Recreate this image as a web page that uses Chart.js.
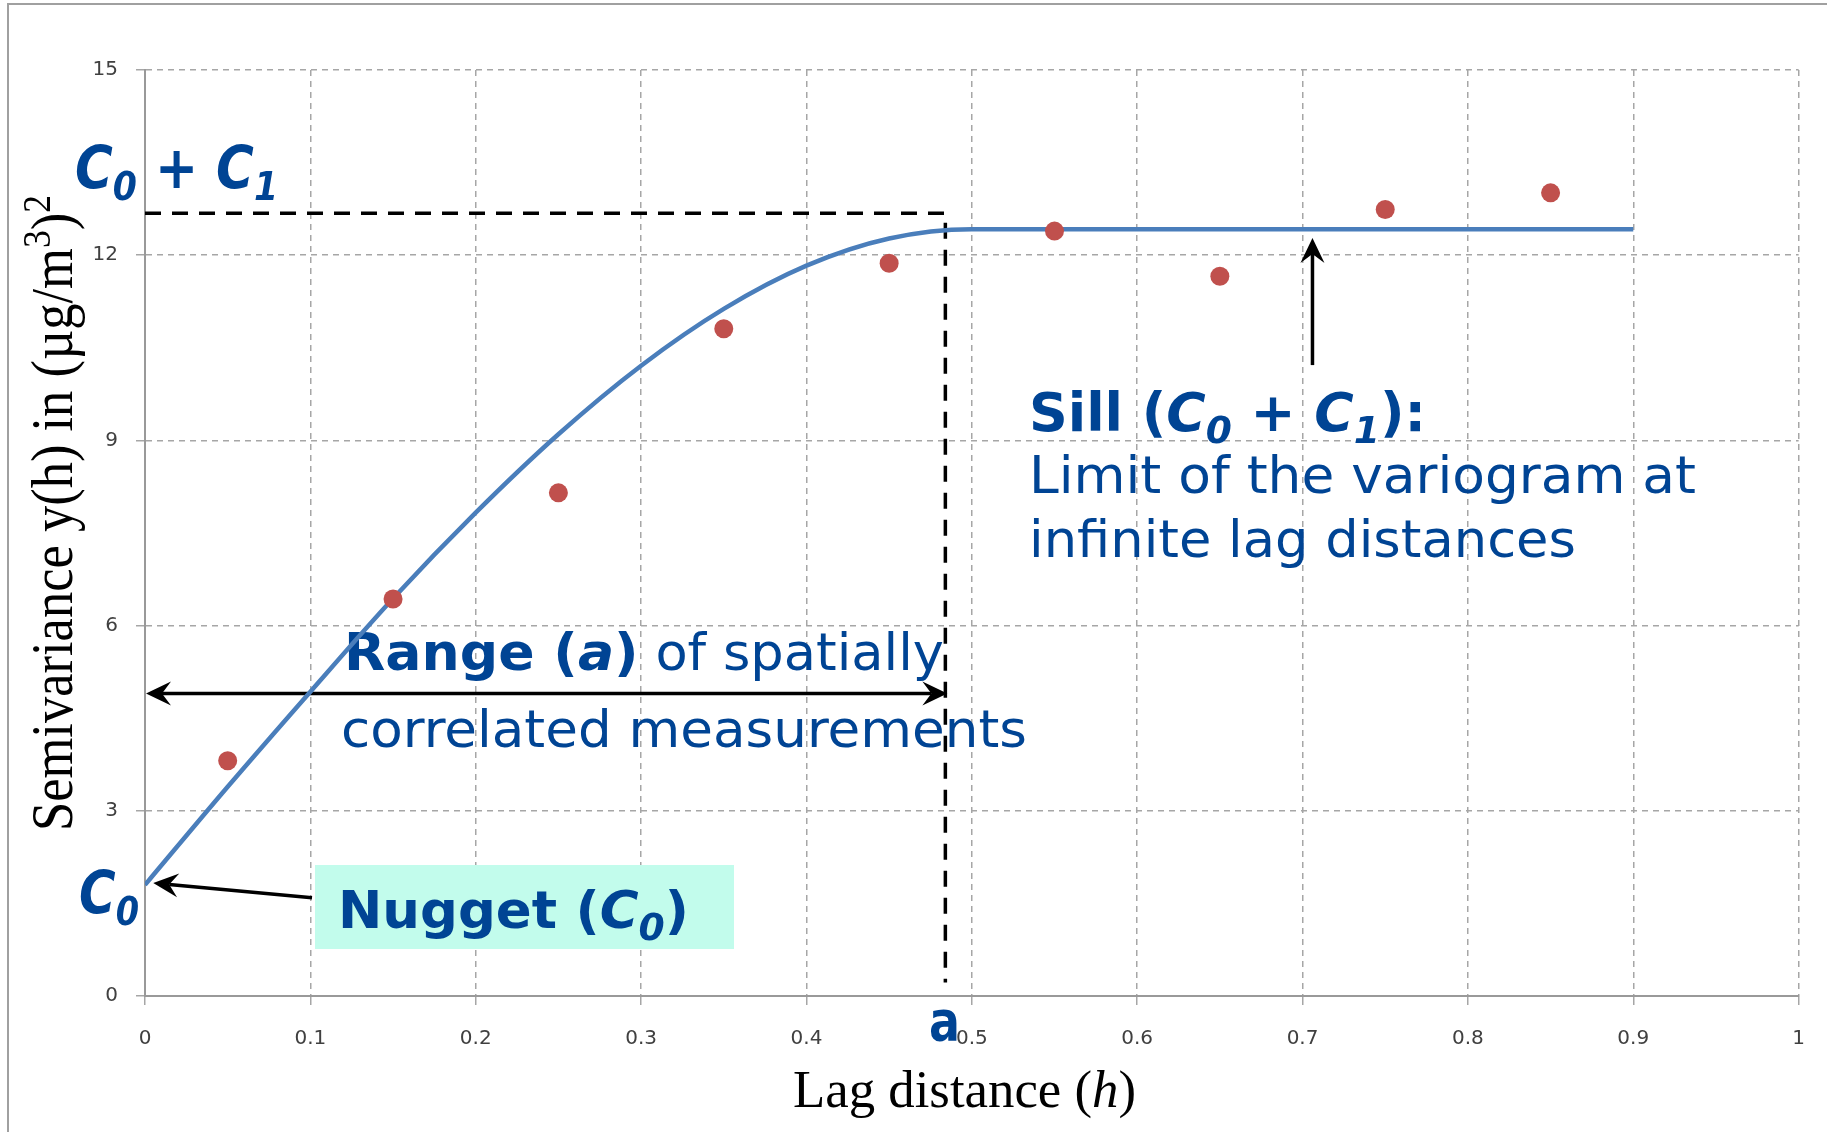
<!DOCTYPE html>
<html><head><meta charset="utf-8">
<script src="https://cdn.jsdelivr.net/npm/chart.js@4.4.1/dist/chart.umd.min.js"></script>
<style>html,body{margin:0;padding:0;background:#fff;overflow:hidden}canvas{display:block}</style>
</head><body>
<canvas id="c" width="1827" height="1132"></canvas>
<script>
// ---- data ----
const lagDistances = [0.05, 0.15, 0.25, 0.35, 0.45, 0.55, 0.65, 0.75, 0.85];
const semivariance = [3.81, 6.43, 8.15, 10.81, 11.87, 12.39, 11.66, 12.74, 13.01];
const modelLag = [0, 0.05, 0.10, 0.15, 0.20, 0.25, 0.30, 0.35, 0.40, 0.45, 0.50, 0.90];
const modelGamma = [1.80, 3.39, 4.93, 6.44, 7.83, 9.10, 10.21, 11.13, 11.83, 12.27, 12.42, 12.42];
const xTickValues = [0, 0.1, 0.2, 0.3, 0.4, 0.5, 0.6, 0.7, 0.8, 0.9, 1];
const xTickLabels = ['0', '0.1', '0.2', '0.3', '0.4', '0.5', '0.6', '0.7', '0.8', '0.9', '1'];
const yTickValues = [0, 3, 6, 9, 12, 15];
const yTickLabels = ['0', '3', '6', '9', '12', '15'];
// annotation anchors (data units)
const sillMarkLevel = 12.68;   // dashed C0+C1 level
const rangeA = 0.484;          // range a
const rangeArrowLevel = 4.9;
const dashedBottom = 0.22;
const sillArrowLag = 0.706, sillArrowFrom = 10.22, sillArrowTo = 12.28;
const nuggetArrowFrom = [0.101, 1.59], nuggetArrowTo = [0.005, 1.83];

const BLUE = '#004494';
const F = (style, size, fam) => `${style} ${size}px ${fam || '"DejaVu Sans"'}`;

function rich(ctx, runs, x, y, targetW, color) {
  ctx.save();
  let total = 0;
  runs.forEach(r => { ctx.font = r.f; r.w = ctx.measureText(r.t).width; total += r.w; });
  const sx = targetW ? targetW / total : 1;
  ctx.translate(x, y); ctx.scale(sx, 1);
  ctx.fillStyle = color; ctx.textBaseline = 'alphabetic'; ctx.textAlign = 'left';
  let cx = 0;
  runs.forEach(r => { ctx.font = r.f; ctx.fillText(r.t, cx, r.dy || 0); cx += r.w; });
  ctx.restore();
}
function arrowHead(ctx, x1, y1, x2, y2) {
  const a = Math.atan2(y2 - y1, x2 - x1);
  ctx.save(); ctx.translate(x2, y2); ctx.rotate(a);
  ctx.beginPath(); ctx.moveTo(0, 0); ctx.lineTo(-25, -12); ctx.lineTo(-16, 0); ctx.lineTo(-25, 12); ctx.closePath();
  ctx.fillStyle = '#000'; ctx.fill(); ctx.restore();
}
function arrow(ctx, x1, y1, x2, y2, both) {
  ctx.save(); ctx.strokeStyle = '#000'; ctx.lineWidth = 3.5; ctx.setLineDash([]);
  const a = Math.atan2(y2 - y1, x2 - x1);
  const sx = both ? x1 + Math.cos(a) * 16 : x1, sy = both ? y1 + Math.sin(a) * 16 : y1;
  ctx.beginPath(); ctx.moveTo(sx, sy); ctx.lineTo(x2 - Math.cos(a) * 16, y2 - Math.sin(a) * 16); ctx.stroke();
  ctx.restore();
  arrowHead(ctx, x1, y1, x2, y2);
  if (both) arrowHead(ctx, x2, y2, x1, y1);
}

const annot = {
  id: 'annot',
  beforeDraw(chart) {
    const ctx = chart.ctx;
    ctx.save(); ctx.fillStyle = '#fff'; ctx.fillRect(0, 0, chart.width, chart.height);
    ctx.strokeStyle = '#a0a0a0'; ctx.lineWidth = 2;
    ctx.beginPath(); ctx.moveTo(8, chart.height); ctx.lineTo(8, 4); ctx.lineTo(chart.width, 4); ctx.stroke();
    ctx.restore();
  },
  beforeDatasetsDraw(chart) {
    const ctx = chart.ctx, xs = chart.scales.x, ys = chart.scales.y;
    // nugget box
    ctx.save(); ctx.fillStyle = '#c2fcec'; ctx.fillRect(315, 865, 419, 84); ctx.restore();
    // texts
    const b = s => F('bold', s), bi = s => F('italic bold', s), r = s => F('', s);
    rich(ctx, [{t:'C', f:bi(58)}, {t:'0', f:bi(39), dy:12}, {t:' + ', f:b(58)}, {t:'C', f:bi(58)}, {t:'1', f:bi(39), dy:12}], 75, 188, 203, BLUE);
    rich(ctx, [{t:'C', f:bi(58)}, {t:'0', f:bi(39), dy:12}], 79, 913, 60, BLUE);
    rich(ctx, [{t:'Range (', f:b(52)}, {t:'a', f:bi(52)}, {t:')', f:b(52)}, {t:' of spatially', f:r(51)}], 344, 670, 600, BLUE);
    rich(ctx, [{t:'correlated measurements', f:r(51)}], 341, 747, 686, BLUE);
    rich(ctx, [{t:'Sill (', f:b(53)}, {t:'C', f:bi(53)}, {t:'0', f:bi(37), dy:12}, {t:' + ', f:b(53)}, {t:'C', f:bi(53)}, {t:'1', f:bi(37), dy:12}, {t:'):', f:b(53)}], 1029, 431, 397, BLUE);
    rich(ctx, [{t:'Limit of the variogram at', f:r(51)}], 1029, 493, 667, BLUE);
    rich(ctx, [{t:'infinite lag distances', f:r(51)}], 1029, 557, 547, BLUE);
    rich(ctx, [{t:'Nugget (', f:b(52)}, {t:'C', f:bi(52)}, {t:'0', f:bi(37), dy:12}, {t:')', f:b(52)}], 338, 928, 351, BLUE);
    // dashed C0+C1 / range lines
    ctx.save(); ctx.strokeStyle = '#000'; ctx.lineWidth = 3.5; ctx.setLineDash([16, 11]);
    const yS = ys.getPixelForValue(sillMarkLevel), xA = xs.getPixelForValue(rangeA);
    ctx.beginPath(); ctx.moveTo(xs.getPixelForValue(0), yS); ctx.lineTo(xA, yS); ctx.lineTo(xA, ys.getPixelForValue(dashedBottom)); ctx.stroke();
    ctx.restore();
    // arrows
    const yR = ys.getPixelForValue(rangeArrowLevel);
    arrow(ctx, xs.getPixelForValue(0) + 1, yR, xA + 2, yR, true);
    const xSA = xs.getPixelForValue(sillArrowLag);
    arrow(ctx, xSA, ys.getPixelForValue(sillArrowFrom), xSA, ys.getPixelForValue(sillArrowTo), false);
    arrow(ctx, xs.getPixelForValue(nuggetArrowFrom[0]), ys.getPixelForValue(nuggetArrowFrom[1]),
               xs.getPixelForValue(nuggetArrowTo[0]), ys.getPixelForValue(nuggetArrowTo[1]), false);
  },
  afterDraw(chart) {
    const ctx = chart.ctx;
    rich(ctx, [{t:'a', f:F('bold', 56)}], 929, 1040, 31, BLUE);
    const serif = '"Liberation Serif"';
    rich(ctx, [{t:'Lag distance (', f:F('', 52, serif)}, {t:'h', f:F('italic', 52, serif)}, {t:')', f:F('', 52, serif)}], 793, 1107, 343, '#000');
    ctx.save(); ctx.translate(72, 831); ctx.rotate(-Math.PI / 2);
    rich(ctx, [{t:'Semivariance y(h) in (\u00B5g/m', f:F('', 59, serif)}, {t:'3', f:F('', 40, serif), dy:-22},
               {t:')', f:F('', 59, serif)}, {t:'2', f:F('', 40, serif), dy:-22}], 0, 0, 636, '#000');
    ctx.restore();
  }
};

const gridOpts = { color: '#a6a6a6', lineWidth: 1.5, tickLength: 9, tickColor: '#a6a6a6' };
new Chart(document.getElementById('c'), {
  type: 'scatter',
  data: {
    datasets: [
      { label: 'Measured', data: lagDistances.map((x, i) => ({x, y: semivariance[i]})),
        backgroundColor: '#c0504d', borderWidth: 0, pointRadius: 9.5, order: 0 },
      { label: 'Model', data: modelLag.map((x, i) => ({x, y: modelGamma[i]})), showLine: true,
        borderColor: '#4a7ebb', borderWidth: 4.5, pointRadius: 0, cubicInterpolationMode: 'monotone', order: 1 }
    ]
  },
  options: {
    responsive: false, animation: false, devicePixelRatio: 1,
    layout: { padding: { top: 70, left: 0, right: 28, bottom: 0 } },
    plugins: { legend: { display: false }, tooltip: { enabled: false } },
    scales: {
      x: { type: 'linear', min: 0, max: 1,
        afterBuildTicks: s => { s.ticks = xTickValues.map(v => ({value: v})); },
        afterFit: s => { s.height = 136; },
        grid: gridOpts, border: { display: true, color: '#999', width: 2, dash: [6, 5] },
        ticks: { callback: (v, i) => xTickLabels[i], color: '#404040', font: { family: '"DejaVu Sans"', size: 20 }, padding: 22, maxRotation: 0 } },
      y: { type: 'linear', min: 0, max: 15,
        afterBuildTicks: s => { s.ticks = yTickValues.map(v => ({value: v})); },
        afterFit: s => { s.width = 145; },
        grid: gridOpts, border: { display: true, color: '#999', width: 2, dash: [6, 5] },
        ticks: { callback: (v, i) => yTickLabels[i], color: '#404040', font: { family: '"DejaVu Sans"', size: 20 }, padding: 18 } }
    }
  },
  plugins: [annot]
});
</script>
</body></html>
